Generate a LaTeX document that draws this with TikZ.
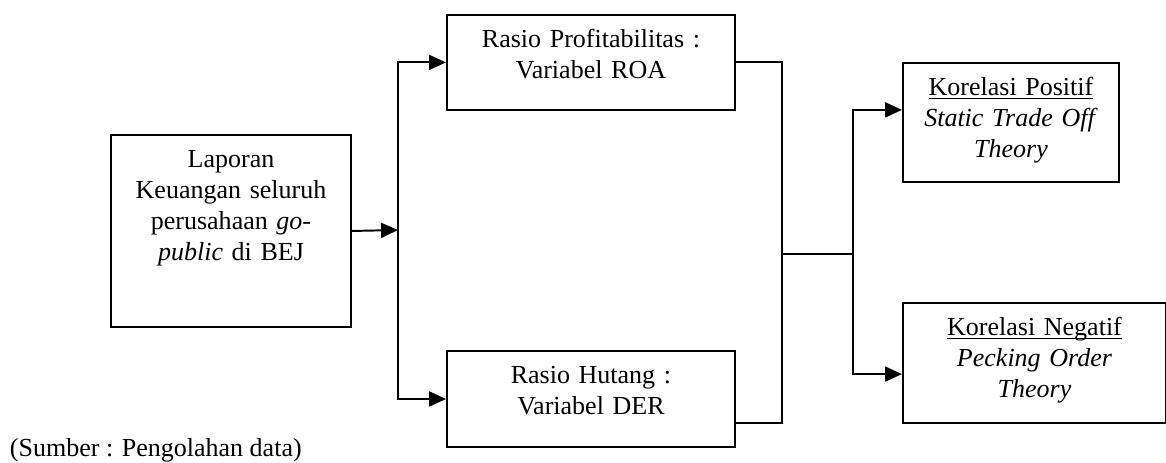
\documentclass[tikz,border=0pt]{standalone}
\usepackage{fontspec}
\setmainfont{Liberation Serif}
\usetikzlibrary{arrows.meta,calc}
\newcommand{\ultext}[1]{\setbox0\hbox{#1}\rlap{\rule[-1.6pt]{\wd0}{0.55pt}}\box0}

\begin{document}
\begin{tikzpicture}[x=0.4615pt,y=-0.4615pt,line width=0.9pt,
  font=\fontsize{12}{14.3}\selectfont,
  box/.style={draw,anchor=north west,align=center,inner xsep=4pt,inner ysep=4pt,text height=11.2pt},
  arr/.style={-{Triangle[length=7.8pt,width=6.9pt]}}]
\useasboundingbox (0,0) rectangle (1166,462);
%draw boxes
\node[box,text width=102.8pt,text depth=69.4pt] (lap) at (110,134) {Laporan\\Keuangan seluruh\\perusahaan \textit{go-}\\\textit{public} di BEJ};
\node[box,text width=124.9pt,text depth=24.6pt] (roa) at (446,14) {Rasio Profitabilitas :\\Variabel ROA};
\node[box,text width=124.9pt,text depth=25.1pt] (der) at (446,350) {Rasio Hutang :\\Variabel DER};
\node[box,text width=91.7pt,text depth=35.7pt] (kpos) at (902,62) {\ultext{Korelasi Positif}\\\textit{Static Trade Off}\\\textit{Theory}};
\node[box,text width=113.4pt,text depth=36.2pt] (kneg) at (902,302) {\ultext{Korelasi Negatif}\\\textit{Pecking Order}\\\textit{Theory}};
%source note
\node[anchor=base west,inner sep=0pt] (src) at (9,456) {(Sumber : Pengolahan data)};
%
%draw connectors
\coordinate (split) at (398,230);
\coordinate (join) at (782,254);
\coordinate (fork) at (853,254);
\draw[arr] (lap.east) -- (split);
\draw[arr] (split) |- (roa.west);
\draw[arr] (split) |- (der.west);
\draw (roa.east) -| (join);
\draw ($(der.south east)!.25!(der.north east)$) -| (join);
\draw (join) -- (fork);
\draw[arr] (fork) |- ([yshift=5.8pt]kpos.west);
\draw[arr] (fork) |- ([yshift=-5.1pt]kneg.west);

\end{tikzpicture}
\end{document}
